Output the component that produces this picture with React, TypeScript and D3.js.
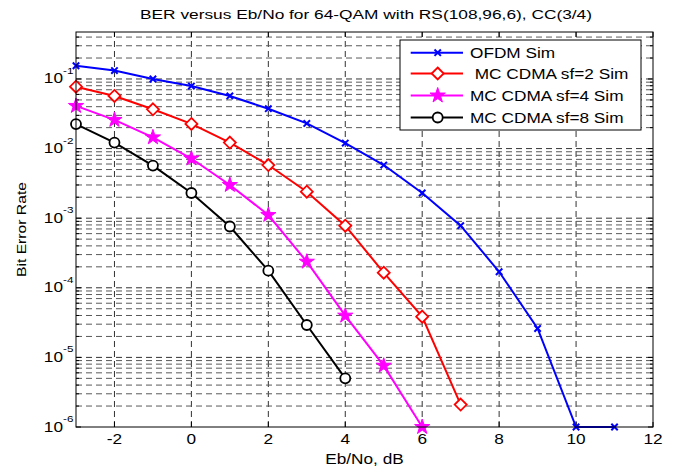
import React from "react";
import * as d3 from "d3";

const title = "BER versus Eb/No for 64-QAM with RS(108,96,6), CC(3/4)";
const xLabel = "Eb/No, dB";
const yLabel = "Bit Error Rate";

const xTicks = [-2, 0, 2, 4, 6, 8, 10, 12];
const yDecades = [-6, -5, -4, -3, -2, -1];

const ofdmX = [-3, -2, -1, 0, 1, 2, 3, 4, 5, 6, 7, 8, 9, 10, 11];
const ofdmY = [0.155, 0.132, 0.1, 0.079, 0.057, 0.0374, 0.023, 0.012, 0.0058, 0.0023, 7.8e-4, 1.7e-4, 2.6e-5, 1e-6, 1e-6];

const sf2X = [-3, -2, -1, 0, 1, 2, 3, 4, 5, 6, 7];
const sf2Y = [0.0775, 0.057, 0.0367, 0.0226, 0.0122, 0.0058, 0.0024, 7.8e-4, 1.65e-4, 3.85e-5, 2.1e-6];

const sf4X = [-3, -2, -1, 0, 1, 2, 3, 4, 5, 6];
const sf4Y = [0.041, 0.0258, 0.0145, 0.0072, 0.003, 0.00111, 2.37e-4, 3.98e-5, 7.6e-6, 1e-6];

const sf8X = [-3, -2, -1, 0, 1, 2, 3, 4];
const sf8Y = [0.0225, 0.0122, 0.0057, 0.0023, 7.6e-4, 1.76e-4, 2.92e-5, 5e-6];

const seriesNames = ["OFDM Sim", " MC CDMA sf=2 Sim", "MC CDMA sf=4 Sim", "MC CDMA sf=8 Sim"];
const seriesColors = ["#0000ff", "#ff0000", "#ff00ff", "#000000"];
const seriesMarkers = ["x", "diamond", "star", "circle"];

const W = 678, H = 467;
const L = 76, R = 653, T = 32, B = 427;
const FONT = "'Liberation Sans', Arial, Helvetica, sans-serif";
const SX = 1.23;

const xScale = d3.scaleLinear().domain([-3, 12]).range([L, R]);
const yScale = d3.scaleLog().domain([1e-6, 0.473]).range([B, T]);

function starPath(R0: number) {
  const r0 = R0 * 0.382;
  const pts: string[] = [];
  for (let i = 0; i < 10; i++) {
    const a = -Math.PI / 2 + (i * Math.PI) / 5;
    const rr = i % 2 === 0 ? R0 : r0;
    pts.push(`${(rr * Math.cos(a)).toFixed(2)},${(rr * Math.sin(a)).toFixed(2)}`);
  }
  return "M" + pts.join("L") + "Z";
}

function Marker({ type, x, y, color }: { type: string; x: number; y: number; color: string }) {
  if (type === "x") {
    const s = 3.2;
    return (
      <path
        d={`M${x - s},${y - s}L${x + s},${y + s}M${x - s},${y + s}L${x + s},${y - s}`}
        stroke={color}
        strokeWidth={2}
        fill="none"
      />
    );
  }
  if (type === "diamond") {
    const s = 6;
    return (
      <path
        d={`M${x},${y - s}L${x + s},${y}L${x},${y + s}L${x - s},${y}Z`}
        stroke={color}
        strokeWidth={1.8}
        fill="white"
      />
    );
  }
  if (type === "star") {
    return <path d={starPath(8)} transform={`translate(${x},${y})`} fill={color} stroke={color} strokeWidth={1} />;
  }
  return <circle cx={x} cy={y} r={5} stroke={color} strokeWidth={1.8} fill="white" />;
}

function SText({ x, y, anchor = "start", size = 14, children }: any) {
  return (
    <g transform={`translate(${x},${y}) scale(${SX},1)`}>
      <text textAnchor={anchor} fontSize={size} fontFamily={FONT} fill="#000">
        {children}
      </text>
    </g>
  );
}

export default function App() {
  const series = [
    { xs: ofdmX, ys: ofdmY },
    { xs: sf2X, ys: sf2Y },
    { xs: sf4X, ys: sf4Y },
    { xs: sf8X, ys: sf8Y },
  ];
  const line = d3
    .line<[number, number]>()
    .x((d) => xScale(d[0]))
    .y((d) => yScale(d[1]));

  const minorVals: number[] = [];
  const majorVals: number[] = [];
  yDecades.forEach((k) => {
    majorVals.push(Math.pow(10, k));
    for (let m = 2; m <= 9; m++) {
      const v = m * Math.pow(10, k);
      if (v <= yScale.domain()[1]) minorVals.push(v);
    }
  });

  const legX = 400, legY = 40, legW = 241, legH = 90;
  const legRows = [52.7, 73.5, 95.5, 117.5];

  return (
    <svg width={W} height={H} style={{ position: "absolute", left: 0, top: 0, background: "#fff" }}>
      <rect x={0} y={0} width={W} height={H} fill="#fff" />
      {/* grid */}
      <g fill="none" strokeWidth={1} strokeDasharray="6,4">
        {xTicks.filter((t) => t > -3 && t < 12).map((t) => (
          <line key={"vx" + t} x1={xScale(t)} x2={xScale(t)} y1={B} y2={T} stroke="#333" />
        ))}
        {minorVals.map((v, i) => (
          <line key={"hm" + i} x1={L} x2={R} y1={yScale(v)} y2={yScale(v)} stroke="#5a5a5a" />
        ))}
        {majorVals.filter((v) => v > 1e-6).map((v, i) => (
          <line key={"hM" + i} x1={L} x2={R} y1={yScale(v)} y2={yScale(v)} stroke="#333" />
        ))}
      </g>
      {/* ticks */}
      <g stroke="#000" strokeWidth={1}>
        {xTicks.map((t) => (
          <g key={"xt" + t}>
            <line x1={xScale(t)} x2={xScale(t)} y1={B} y2={B - 5} />
            <line x1={xScale(t)} x2={xScale(t)} y1={T} y2={T + 5} />
          </g>
        ))}
        {majorVals.map((v, i) => (
          <g key={"yM" + i}>
            <line x1={L} x2={L + 5} y1={yScale(v)} y2={yScale(v)} />
            <line x1={R} x2={R - 5} y1={yScale(v)} y2={yScale(v)} />
          </g>
        ))}
        {minorVals.map((v, i) => (
          <g key={"ym" + i}>
            <line x1={L} x2={L + 3} y1={yScale(v)} y2={yScale(v)} />
            <line x1={R} x2={R - 3} y1={yScale(v)} y2={yScale(v)} />
          </g>
        ))}
      </g>
      {/* series lines */}
      {series.map((s, i) => (
        <path
          key={"l" + i}
          d={line(s.xs.map((x, j) => [x, s.ys[j]] as [number, number])) || ""}
          fill="none"
          stroke={seriesColors[i]}
          strokeWidth={2}
        />
      ))}
      {series.map((s, i) =>
        s.xs.map((x, j) => (
          <Marker key={"m" + i + "-" + j} type={seriesMarkers[i]} x={xScale(x)} y={yScale(s.ys[j])} color={seriesColors[i]} />
        ))
      )}
      {/* frame */}
      <rect x={L} y={T} width={R - L} height={B - T} fill="none" stroke="#000" strokeWidth={1} />
      {/* x tick labels */}
      {xTicks.map((t) => (
        <SText key={"xl" + t} x={xScale(t)} y={444} anchor="middle">
          {String(t)}
        </SText>
      ))}
      {/* y tick labels */}
      {yDecades.map((k) => (
        <g key={"yl" + k}>
          <SText x={63} y={yScale(Math.pow(10, k)) + 4.5} anchor="end">
            10
          </SText>
          <SText x={63} y={yScale(Math.pow(10, k)) - 5} anchor="start" size={9.5}>
            {String(k)}
          </SText>
        </g>
      ))}
      {/* axis labels */}
      <SText x={(L + R) / 2} y={464} anchor="middle">
        {xLabel}
      </SText>
      <g transform="translate(25.5,229.5) rotate(-90)">
        <text x={-47.5} y={0} fontSize={13} fontFamily={FONT} textLength={95} lengthAdjust="spacingAndGlyphs">
          {yLabel}
        </text>
      </g>
      <text x={140} y={19} fontSize={12.5} fontFamily={FONT} textLength={452} lengthAdjust="spacingAndGlyphs">
        {title}
      </text>
      {/* legend */}
      <rect x={legX} y={legY} width={legW} height={legH} fill="#fff" stroke="#000" strokeWidth={1} />
      {seriesNames.map((name, i) => (
        <g key={"lg" + i}>
          <line x1={410.7} x2={463} y1={legRows[i]} y2={legRows[i]} stroke={seriesColors[i]} strokeWidth={2} />
          <Marker type={seriesMarkers[i]} x={437.7} y={legRows[i]} color={seriesColors[i]} />
          <g transform={`translate(470,${legRows[i] + 5}) scale(${SX},1)`}>
            <text fontSize={14} fontFamily={FONT} xmlSpace="preserve" style={{ whiteSpace: "pre" }}>
              {name}
            </text>
          </g>
        </g>
      ))}
    </svg>
  );
}
